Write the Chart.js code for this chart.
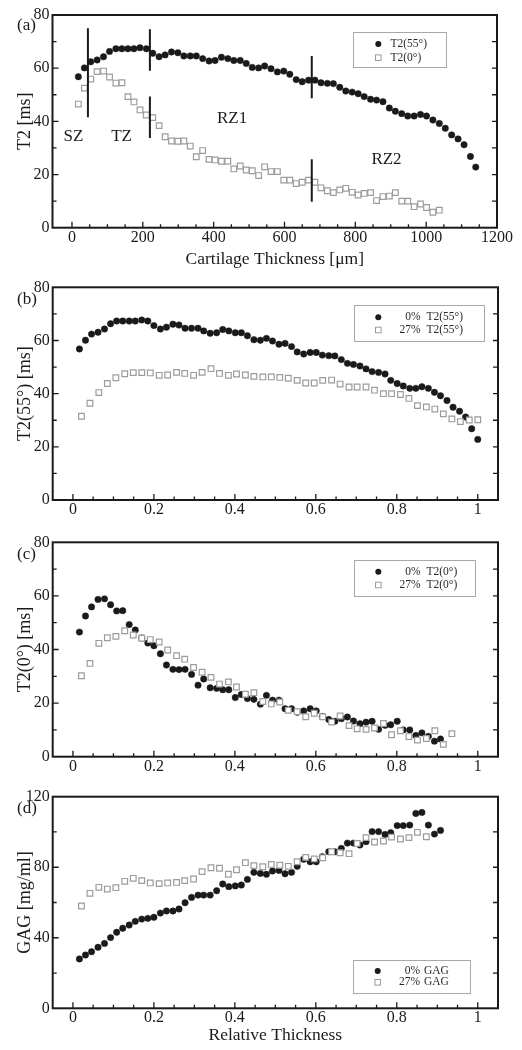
<!DOCTYPE html>
<html><head><meta charset="utf-8">
<script src="https://cdn.jsdelivr.net/npm/chart.js@4.4.1/dist/chart.umd.min.js"></script>
<style>
html,body{margin:0;padding:0;background:#fff;}
body{width:522px;height:1050px;position:relative;overflow:hidden;}
canvas{position:absolute;left:0;display:block;}
</style></head><body>
<canvas id="ca" width="522" height="272" style="top:0px"></canvas>
<canvas id="cb" width="522" height="253" style="top:272px"></canvas>
<canvas id="cc" width="522" height="255" style="top:525px"></canvas>
<canvas id="cd" width="522" height="270" style="top:780px"></canvas>
<script>
// ---------- data ----------
const thicknessUm = [18,35,53,71,89,106,124,141,158,175,192,210,228,246,263,281,299,316,334,351,369,387,404,422,440,457,475,492,509,527,544,562,580,598,615,633,650,668,686,703,721,738,756,773,791,808,825,843,860,878,896,913,931,948,966,984,1001,1019,1037,1054,1072,1090,1107,1125,1140];
const relThick0 = [0.016,0.031,0.046,0.062,0.078,0.093,0.108,0.123,0.139,0.154,0.170,0.185,0.200,0.216,0.231,0.247,0.262,0.277,0.293,0.309,0.323,0.339,0.355,0.370,0.385,0.401,0.416,0.431,0.447,0.463,0.478,0.493,0.509,0.524,0.540,0.554,0.570,0.586,0.601,0.616,0.632,0.647,0.663,0.678,0.693,0.709,0.724,0.739,0.755,0.771,0.785,0.801,0.816,0.832,0.847,0.862,0.878,0.893,0.908,0.924,0.939,0.955,0.970,0.985,1.000];
const relThick27 = [0.021,0.042,0.064,0.085,0.106,0.128,0.149,0.170,0.191,0.213,0.234,0.256,0.276,0.298,0.319,0.341,0.362,0.384,0.404,0.426,0.447,0.469,0.490,0.511,0.532,0.554,0.575,0.596,0.617,0.639,0.660,0.682,0.702,0.724,0.745,0.767,0.787,0.809,0.830,0.851,0.873,0.894,0.915,0.936,0.957,0.979,1.000];

const t2_55_0pct = [56.8,60.1,62.4,63.1,64.3,66.3,67.3,67.3,67.3,67.3,67.7,67.3,65.6,64.3,65.0,66.1,65.8,64.6,64.6,64.6,63.6,62.7,62.9,64.1,63.6,62.9,62.9,61.8,60.3,60.1,60.8,59.8,58.6,58.9,57.7,55.7,54.9,55.5,55.5,54.5,54.3,54.2,52.8,51.4,51.0,50.4,49.3,48.3,48.0,47.4,45.0,43.8,42.9,42.0,42.0,42.6,42.0,40.5,39.2,37.4,34.9,33.4,31.2,26.8,22.8];
const t2_0_0pct = [46.5,52.5,55.9,58.7,58.9,56.7,54.4,54.5,49.3,47.3,44.3,42.4,41.4,38.4,34.2,32.6,32.5,32.6,30.7,26.7,29.0,25.7,25.5,25.0,25.0,22.1,23.2,21.7,21.4,19.6,22.9,21.1,21.1,17.9,17.9,16.6,17.1,17.9,17.1,15.0,13.9,13.2,14.2,14.8,13.3,12.3,12.9,13.2,10.2,11.7,11.9,13.2,10.0,10.0,7.9,8.9,7.6,5.8,6.6];
const t2_55_27pct = [31.5,36.4,40.4,43.8,46.0,47.5,47.9,47.9,47.8,46.9,47.0,48.0,47.6,46.9,48.0,49.4,47.6,46.9,47.4,47.0,46.5,46.3,46.3,46.1,45.8,45.0,44.0,44.0,45.0,45.1,43.6,42.5,42.5,42.5,41.3,40.0,40.0,39.7,38.2,35.5,35.0,34.2,32.4,30.5,29.5,30.1,30.2];
const t2_0_27pct = [30.2,34.8,42.3,44.4,44.9,47.0,45.4,44.2,43.7,42.8,39.8,37.7,36.4,33.3,31.5,29.6,27.1,27.9,26.0,23.3,23.9,20.6,19.7,20.4,17.3,16.8,14.9,16.2,14.9,12.9,15.2,11.6,10.4,10.2,10.7,12.4,8.2,9.7,7.5,6.2,6.8,9.7,4.6,8.6];
const gag_0pct = [28.0,30.2,32.1,34.6,36.8,40.1,43.1,45.4,47.2,49.3,50.6,51.0,51.6,54.0,55.2,55.2,56.3,59.9,62.9,64.2,64.2,64.2,66.7,70.5,69.0,69.4,69.9,73.1,77.1,76.5,76.0,77.9,78.2,76.3,77.1,80.5,84.5,83.1,83.1,86.0,88.8,88.8,90.7,93.7,93.7,92.6,94.5,100.2,100.2,98.6,99.6,103.6,103.6,103.9,110.5,111.1,103.9,98.8,100.9];
const gag_27pct = [58.0,65.2,68.6,67.6,68.4,72.0,73.7,72.4,71.1,70.7,71.1,71.4,72.4,73.3,77.5,79.7,79.4,76.0,78.6,82.6,80.9,80.3,81.6,81.1,80.5,83.1,85.6,84.7,85.4,88.8,88.2,87.7,93.5,96.8,94.3,94.9,97.1,96.0,96.8,99.8,97.3];

// zone boundary segments in panel (a)
const zoneLineX   = [45, 220, 220, 677, 677];
const zoneLineTop = [75, 74.6, 49.3, 64.6, 25.7];
const zoneLineBot = [41.5, 59, 33.7, 48.7, 9.8];
const zoneNames = ['SZ','TZ','RZ1','RZ2'];
const zoneNameX = [4, 140, 452, 888];
const zoneNameY = [34.2, 34.2, 41.1, 25.5];

// tick labels
const xTicksUm  = [0,200,400,600,800,1000,1200];
const xTicksRel = [0,0.2,0.4,0.6,0.8,1];
const yTicksT2  = [0,20,40,60,80];
const yTicksGAG = [0,40,80,120];

// ---------- styling ----------
const SERIF = "'Liberation Serif','DejaVu Serif','Times New Roman',serif";
const INK = '#1a1a1a';
const GREY = '#9c9c9c';

function pts(xs, ys){ return ys.map((y,i)=>({x:xs[i], y:y})); }
function circleSet(label, xs, ys){
  return {label, data:pts(xs,ys), showLine:false, pointStyle:'circle', pointRadius:3.2,
    pointBackgroundColor:INK, pointBorderColor:INK, pointBorderWidth:0.5, order:2};
}
function squareSet(label, xs, ys){
  return {label, data:pts(xs,ys), showLine:false, pointStyle:'rect', pointRadius:4,
    pointBackgroundColor:'#ffffff', pointBorderColor:GREY, pointBorderWidth:1.2, order:1};
}
function zoneSets(){
  return zoneLineX.map((x,i)=>({label:'', data:[{x:x,y:zoneLineTop[i]},{x:x,y:zoneLineBot[i]}],
    showLine:true, pointRadius:0, borderColor:INK, borderWidth:2, order:0}));
}

function decor(P){
  return {
    id:'decor',
    afterDatasetsDraw(chart){
      const ctx = chart.ctx, a = chart.chartArea, xs = chart.scales.x, ys = chart.scales.y;
      ctx.save();
      const isMajor = (v, arr) => arr.some(t => Math.abs(t - v) < 1e-6);
      ctx.strokeStyle = INK; ctx.lineWidth = 1.3;
      ctx.beginPath();
      for (let k = 0; ; k++) {
        const v = Math.round((P.xMinorStart + k*P.xMinor)*1e6)/1e6;
        if (v > P.xMinorEnd + 1e-9) break;
        const px = xs.getPixelForValue(v);
        const L = isMajor(v, P.xTicks) ? 6 : 3.5;
        ctx.moveTo(px, a.bottom); ctx.lineTo(px, a.bottom - L);
      }
      for (let k = 1; ; k++) {
        const v = Math.round((P.yMin + k*P.yMinor)*1e6)/1e6;
        if (v >= P.yMax - 1e-9) break;
        const py = ys.getPixelForValue(v);
        const L = isMajor(v, P.yTicks) ? 6 : 4;
        ctx.moveTo(a.left, py); ctx.lineTo(a.left + L, py);
        ctx.moveTo(a.right, py); ctx.lineTo(a.right - 5, py);
      }
      ctx.stroke();
      // frame
      ctx.lineWidth = 2; ctx.strokeStyle = INK;
      ctx.strokeRect(a.left, a.top, a.right - a.left, a.bottom - a.top);
      // panel label
      ctx.fillStyle = INK; ctx.font = '17px ' + SERIF;
      ctx.textAlign = 'left'; ctx.textBaseline = 'middle';
      ctx.fillText(P.label, 17, a.top + P.labelDy);
      // zone labels
      if (P.zones) {
        ctx.font = '17px ' + SERIF; ctx.textAlign = 'center';
        zoneNames.forEach((n,i)=>{
          ctx.fillText(n, xs.getPixelForValue(zoneNameX[i]), ys.getPixelForValue(zoneNameY[i]));
        });
      }
      // legend
      const L = P.legend, T = P.top;
      ctx.lineWidth = 1; ctx.strokeStyle = '#a8a8a8';
      ctx.strokeRect(Math.round(L.box[0])+0.5, Math.round(L.box[1]-T)+0.5,
                     Math.round(L.box[2]-L.box[0]), Math.round(L.box[3]-L.box[1]));
      ctx.font = '11.5px ' + SERIF; ctx.fillStyle = '#2a2a2a'; ctx.textBaseline = 'middle';
      L.items.forEach((di, i) => {
        const ds = chart.data.datasets[di];
        const y = L.rows[i] - T, x = L.markX;
        if (ds.pointStyle === 'circle') {
          ctx.beginPath(); ctx.arc(x, y, 3, 0, Math.PI*2); ctx.fillStyle = INK; ctx.fill();
        } else {
          ctx.fillStyle = '#fff'; ctx.strokeStyle = GREY; ctx.lineWidth = 1;
          ctx.fillRect(x-2.8, y-2.8, 5.6, 5.6); ctx.strokeRect(x-2.8, y-2.8, 5.6, 5.6);
        }
        ctx.fillStyle = '#2a2a2a';
        const parts = ds.label.split('  ');
        if (parts.length > 1) {
          ctx.textAlign = 'right'; ctx.fillText(parts[0], L.prefixRight, y);
          ctx.textAlign = 'left'; ctx.fillText(parts[1], L.nameX, y);
        } else {
          ctx.textAlign = 'left'; ctx.fillText(parts[0], L.nameX, y);
        }
      });
      ctx.restore();
    }
  };
}

function makeChart(P, datasets){
  const fmt = v => String(v);
  return new Chart(document.getElementById(P.canvas), {
    type:'scatter',
    data:{datasets},
    options:{
      responsive:false, animation:false, devicePixelRatio:1, events:[],
      layout:{padding:{top:P.area.t - P.top, right:522 - P.area.r, left:0, bottom:0}},
      plugins:{legend:{display:false}, tooltip:{enabled:false}},
      scales:{
        x:{type:'linear', min:P.xMin, max:P.xMax,
          afterFit: s => { s.height = P.top + P.h - P.area.b; },
          afterBuildTicks: s => { s.ticks = P.xTicks.map(v=>({value:v})); },
          grid:{display:false, drawTicks:false}, border:{display:false},
          ticks:{font:{family:SERIF, size:16}, color:INK, padding:0, maxRotation:0, autoSkip:false, callback:fmt},
          title:{display:!!P.xTitle, text:P.xTitle || '', color:INK, font:{family:SERIF, size:17.5},
                 padding:{top:0, bottom:P.xTitlePad || 0}}
        },
        y:{type:'linear', min:P.yMin, max:P.yMax,
          afterFit: s => { s.width = P.area.l; },
          afterBuildTicks: s => { s.ticks = P.yTicks.map(v=>({value:v})); },
          grid:{display:false, drawTicks:false}, border:{display:false},
          ticks:{font:{family:SERIF, size:16}, color:INK, padding:3, autoSkip:false, callback:fmt},
          title:{display:true, text:P.yTitle, color:INK, font:{family:SERIF, size:18},
                 padding:{top:14, bottom:0}}
        }
      }
    },
    plugins:[decor(P)]
  });
}

// ---------- panels ----------
const PA = {canvas:'ca', top:0, h:272, area:{l:52.5, r:497, t:15, b:227.7},
  xMin:-55, xMax:1200, yMin:0, yMax:80, xTicks:xTicksUm, yTicks:yTicksT2,
  xMinor:50, xMinorStart:0, xMinorEnd:1150, yMinor:10,
  xTitle:'Cartilage Thickness [μm]', xTitlePad:2, yTitle:'T2 [ms]', label:'(a)', labelDy:11, zones:true,
  legend:{box:[352.7,32.3,445.3,67.7], markX:378.3, rows:[44,57.7], nameX:390.5, items:[0,1]}};
makeChart(PA, [
  circleSet('T2(55°)', thicknessUm, t2_55_0pct),
  squareSet('T2(0°)', thicknessUm, t2_0_0pct),
  ...zoneSets()
]);

const PB = {canvas:'cb', top:272, h:253, area:{l:52.7, r:498, t:287.3, b:500},
  xMin:-0.05, xMax:1.05, yMin:0, yMax:80, xTicks:xTicksRel, yTicks:yTicksT2,
  xMinor:0.05, xMinorStart:0, xMinorEnd:1.0, yMinor:10,
  xTitle:null, yTitle:'T2(55°) [ms]', label:'(b)', labelDy:12.5,
  legend:{box:[354,305,484,341], markX:378.3, rows:[317.3,330], prefixRight:420.5, nameX:426.5, items:[0,1]}};
makeChart(PB, [
  circleSet('0%  T2(55°)', relThick0, t2_55_0pct),
  squareSet('27%  T2(55°)', relThick27, t2_55_27pct)
]);

const PC = {canvas:'cc', top:525, h:255, area:{l:52.7, r:498, t:542.3, b:756.7},
  xMin:-0.05, xMax:1.05, yMin:0, yMax:80, xTicks:xTicksRel, yTicks:yTicksT2,
  xMinor:0.05, xMinorStart:0, xMinorEnd:1.0, yMinor:10,
  xTitle:null, yTitle:'T2(0°) [ms]', label:'(c)', labelDy:12.5,
  legend:{box:[354,560,474.7,595.7], markX:378.3, rows:[571.7,585], prefixRight:420.5, nameX:426.5, items:[0,1]}};
makeChart(PC, [
  circleSet('0%  T2(0°)', relThick0, t2_0_0pct),
  squareSet('27%  T2(0°)', relThick27, t2_0_27pct)
]);

const PD = {canvas:'cd', top:780, h:270, area:{l:52.7, r:498, t:796.7, b:1008.3},
  xMin:-0.05, xMax:1.05, yMin:0, yMax:120, xTicks:xTicksRel, yTicks:yTicksGAG,
  xMinor:0.05, xMinorStart:0, xMinorEnd:1.0, yMinor:20,
  xTitle:'Relative Thickness', xTitlePad:4.5, yTitle:'GAG [mg/ml]', label:'(d)', labelDy:11.5,
  legend:{box:[353.3,960,470.7,993.3], markX:377.7, rows:[971,982.3], prefixRight:420, nameX:424, items:[0,1]}};
makeChart(PD, [
  circleSet('0%  GAG', relThick0, gag_0pct),
  squareSet('27%  GAG', relThick27, gag_27pct)
]);
</script>
</body></html>
